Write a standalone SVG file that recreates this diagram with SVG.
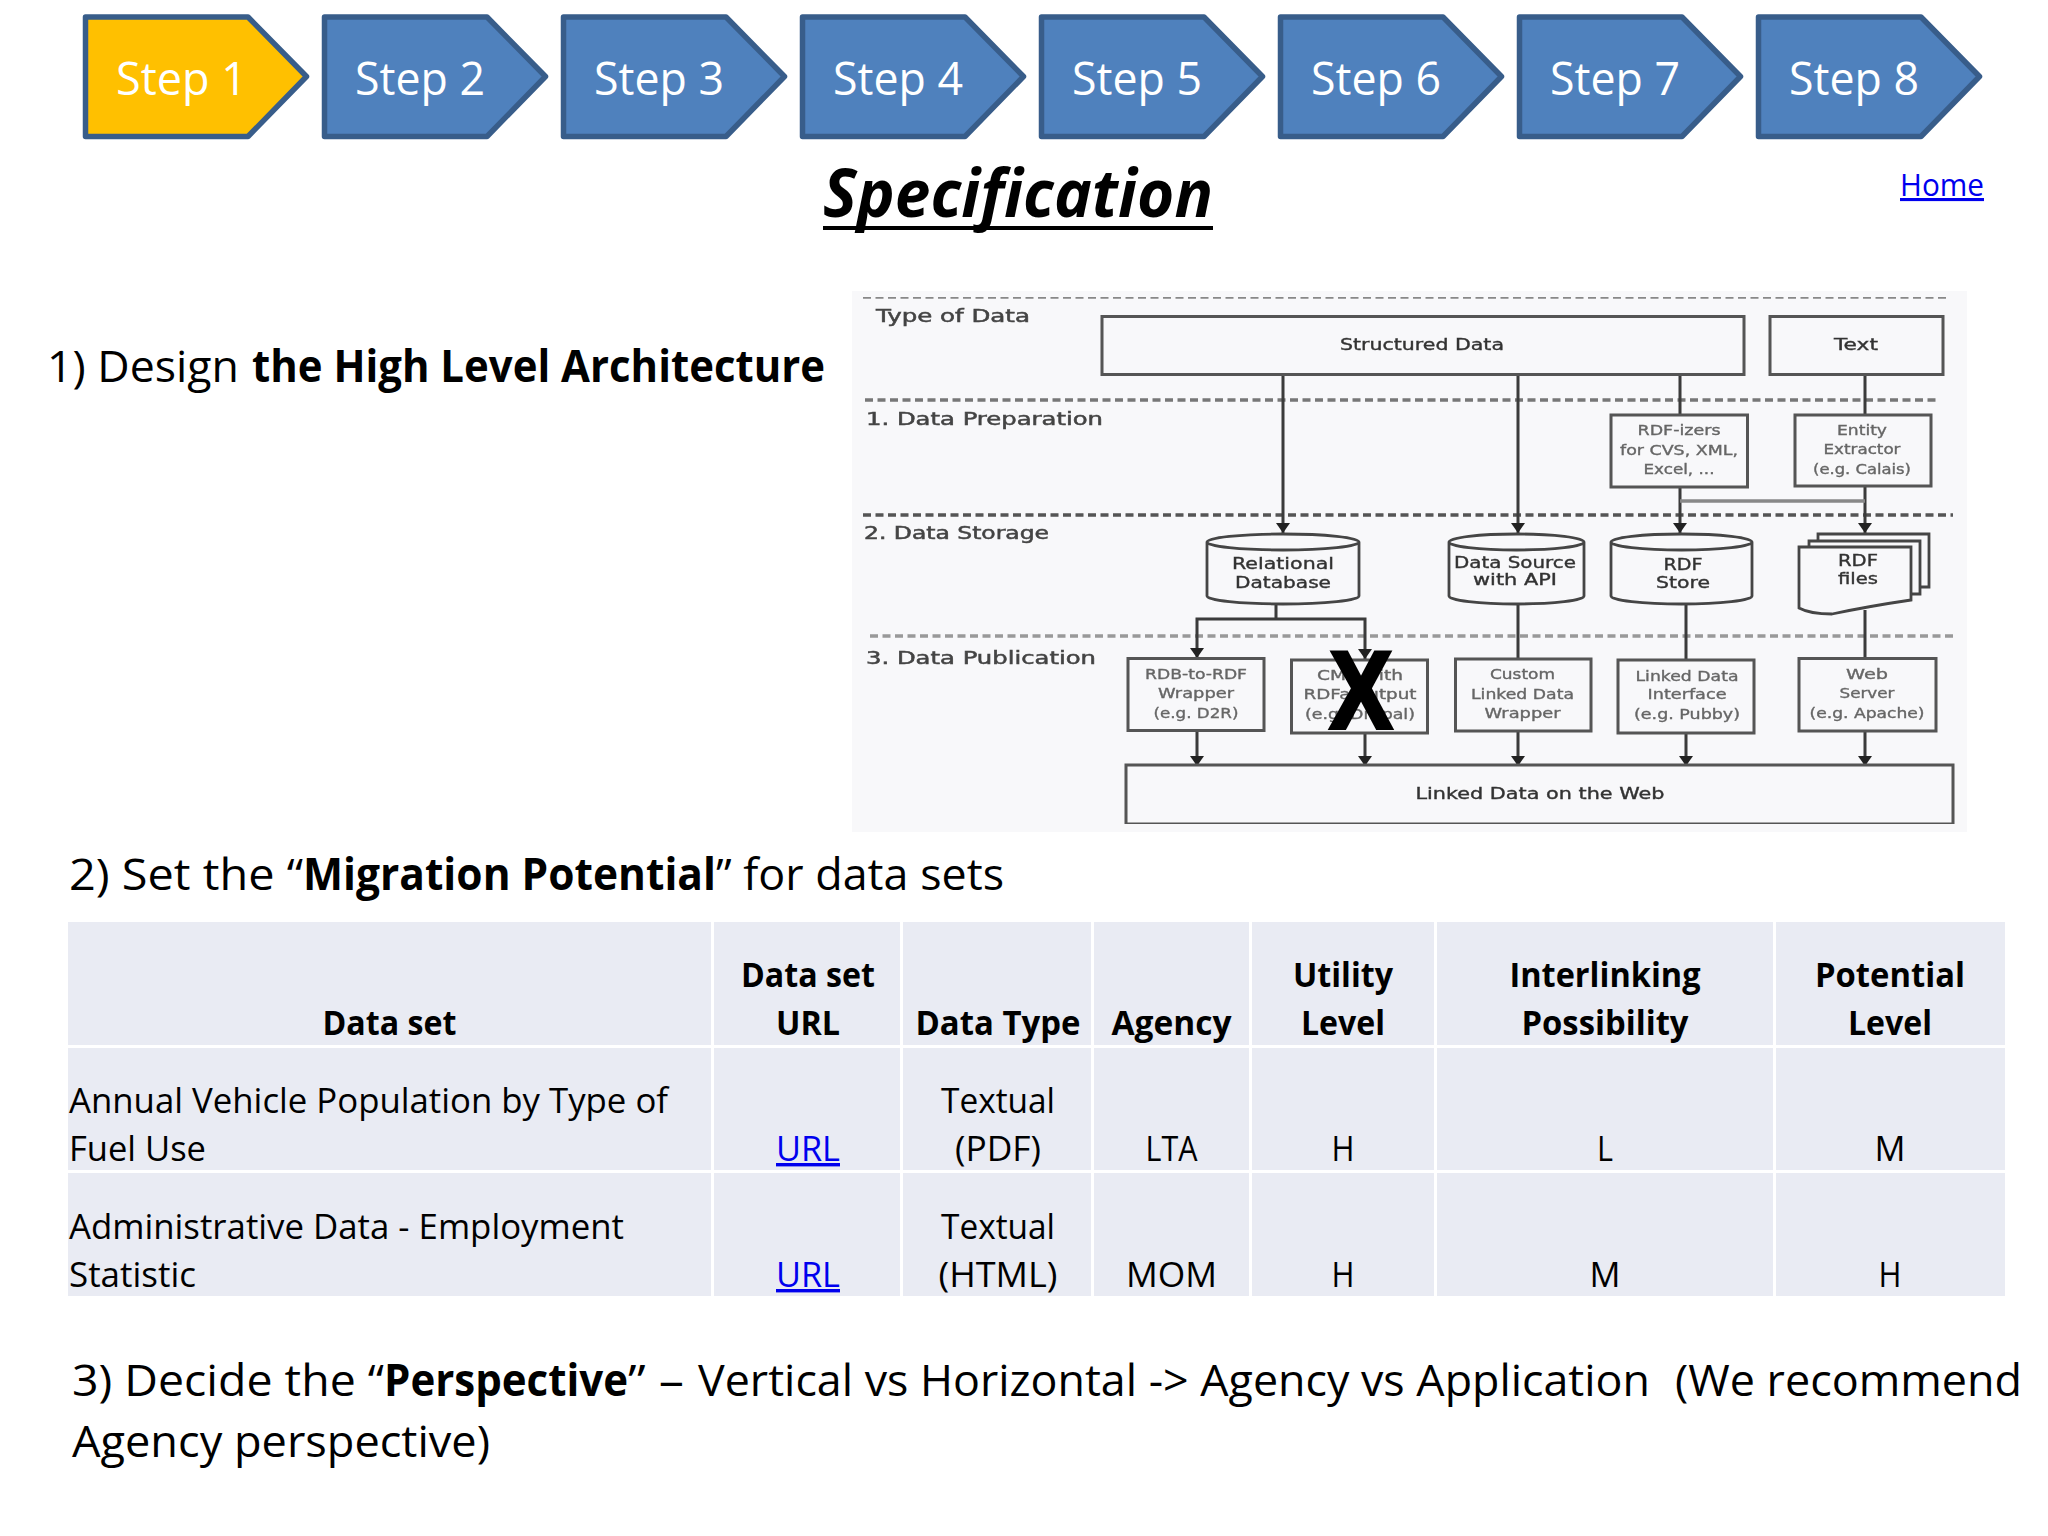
<svg xmlns="http://www.w3.org/2000/svg" width="2048" height="1536" viewBox="0 0 2048 1536">
<style>
text{font-family:"Open Sans","Noto Sans","Liberation Sans",sans-serif;fill:#000}
.chev{fill:#4F81BD;stroke:#385D8A;stroke-width:5.5;stroke-linejoin:round}
.st{fill:#fff;font-size:45px}
.b{font-weight:700}
.h1{font-size:44px}
.t{font-size:34px}
.m{text-anchor:middle}
.a{fill:#0000EE;text-decoration:underline}
.cell{fill:#E9EBF3}
.sk text{font-family:"DejaVu Sans","Liberation Sans",sans-serif;font-size:15px;text-anchor:middle;fill:#333;stroke:#333;stroke-width:.35}
.sk .l{fill:#666;stroke:#666;font-size:14px}
.sk .lab{text-anchor:start;font-size:17px;fill:#444;stroke:#444;stroke-width:.5}
.box{fill:none;stroke:#555;stroke-width:3}
.cyl{fill:#F8F8FA;stroke:#444;stroke-width:2.8}
.dash{stroke:#666;stroke-width:3.5;stroke-dasharray:8 4.500;fill:none}
.con{stroke:#3a3a3a;stroke-width:3;fill:none}
.arr{marker-end:url(#ah)}
</style>
<defs>
<marker id="ah" markerUnits="userSpaceOnUse" markerWidth="10" markerHeight="14" refX="10" refY="7" orient="auto"><path d="M0 0L10 7L0 14z" fill="#222"/></marker>
<filter id="soft" x="0" y="0" width="100%" height="100%"><feGaussianBlur stdDeviation="0.7"/></filter>
<polygon id="chevshape" points="85.5,17 248,17 306.5,76.5 248,136.5 85.5,136.5"/>
</defs>
<rect width="2048" height="1536" fill="#fff"/>

<g id="step1"><polygon points="85.5,17 248,17 306.5,76.5 248,136.5 85.5,136.5" class="chev" style="fill:#FFC000"/><text x="116" y="95" class="st" textLength="131" lengthAdjust="spacingAndGlyphs">Step 1</text></g>
<g id="step2" transform="translate(239 0)"><use href="#chevshape" class="chev"/><text x="116" y="95" class="st" textLength="130" lengthAdjust="spacingAndGlyphs">Step 2</text></g>
<g id="step3" transform="translate(478 0)"><use href="#chevshape" class="chev"/><text x="116" y="95" class="st" textLength="130" lengthAdjust="spacingAndGlyphs">Step 3</text></g>
<g id="step4" transform="translate(717 0)"><use href="#chevshape" class="chev"/><text x="116" y="95" class="st" textLength="130" lengthAdjust="spacingAndGlyphs">Step 4</text></g>
<g id="step5" transform="translate(956 0)"><use href="#chevshape" class="chev"/><text x="116" y="95" class="st" textLength="130" lengthAdjust="spacingAndGlyphs">Step 5</text></g>
<g id="step6" transform="translate(1195 0)"><use href="#chevshape" class="chev"/><text x="116" y="95" class="st" textLength="130" lengthAdjust="spacingAndGlyphs">Step 6</text></g>
<g id="step7" transform="translate(1434 0)"><use href="#chevshape" class="chev"/><text x="116" y="95" class="st" textLength="130" lengthAdjust="spacingAndGlyphs">Step 7</text></g>
<g id="step8" transform="translate(1673 0)"><use href="#chevshape" class="chev"/><text x="116" y="95" class="st" textLength="130" lengthAdjust="spacingAndGlyphs">Step 8</text></g>

<g id="title"><text x="823" y="216.500" font-size="66" font-weight="700" font-style="italic" textLength="390" lengthAdjust="spacingAndGlyphs">Specification</text><rect x="823" y="226" width="390" height="4"/></g>
<g id="home"><text x="1900" y="196" font-size="31" class="a" textLength="84" lengthAdjust="spacingAndGlyphs">Home</text></g>

<g id="heading1"><text x="47" y="382" class="h1" textLength="192" lengthAdjust="spacingAndGlyphs">1) Design</text><text x="252" y="382" class="h1 b" textLength="573" lengthAdjust="spacingAndGlyphs">the High Level Architecture</text></g>

<g id="sketch" class="sk">
<rect x="852" y="291" width="1115" height="541" fill="#F8F8FA"/>
<g filter="url(#soft)">
<g id="lanes">
<path class="dash" style="stroke:#888" d="M863 297H1947"/><path class="dash" style="stroke:#777" d="M865 400H1938"/><path class="dash" style="stroke:#555" d="M863 515H1953"/><path class="dash" style="stroke:#999" d="M870 636H1955"/>
<text class="lab" x="876" y="322" textLength="154" lengthAdjust="spacingAndGlyphs">Type of Data</text>
<text class="lab" x="866" y="425" textLength="237" lengthAdjust="spacingAndGlyphs">1. Data Preparation</text>
<text class="lab" x="864" y="539" textLength="185" lengthAdjust="spacingAndGlyphs">2. Data Storage</text>
<text class="lab" x="866" y="664" textLength="230" lengthAdjust="spacingAndGlyphs">3. Data Publication</text>
</g>
<g id="connectors">
<path class="con arr" d="M1283 375V533"/>
<path class="con arr" d="M1518 375V533"/>
<path class="con" d="M1680 375V415"/>
<path class="con" d="M1865 375V415"/>
<path class="con arr" d="M1680 487V533"/>
<path class="con arr" d="M1865 486V533"/>
<path d="M1680 501H1865" fill="none" stroke="#888" stroke-width="3.500"/>
<path class="con" d="M1276 604V619"/>
<path class="con arr" d="M1276 619H1197V658"/>
<path class="con arr" d="M1276 619H1365V659"/>
<path class="con" d="M1518 604V659"/>
<path class="con" d="M1686 604V660"/>
<path class="con" d="M1865 610V659"/>
<path class="con arr" d="M1197 731V766"/>
<path class="con arr" d="M1365 733V766"/>
<path class="con arr" d="M1518 731V766"/>
<path class="con arr" d="M1686 733V766"/>
<path class="con arr" d="M1865 731V766"/>
</g>
<g id="structured"><rect class="box" x="1102" y="316.500" width="642" height="58"/><text x="1422" y="350" textLength="164" lengthAdjust="spacingAndGlyphs">Structured Data</text></g>
<g id="text-source"><rect class="box" x="1770" y="316.500" width="173" height="58"/><text x="1856" y="350" textLength="44" lengthAdjust="spacingAndGlyphs">Text</text></g>
<g id="rdfizers"><rect class="box" x="1611" y="415" width="136.500" height="72"/><text class="l" x="1679" y="435" textLength="83" lengthAdjust="spacingAndGlyphs">RDF-izers</text><text class="l" x="1679" y="455" textLength="118" lengthAdjust="spacingAndGlyphs">for CVS, XML,</text><text class="l" x="1679" y="473.500" textLength="71" lengthAdjust="spacingAndGlyphs">Excel, ...</text></g>
<g id="entity"><rect class="box" x="1795" y="415" width="136" height="71"/><text class="l" x="1862" y="435" textLength="50" lengthAdjust="spacingAndGlyphs">Entity</text><text class="l" x="1862" y="454" textLength="77" lengthAdjust="spacingAndGlyphs">Extractor</text><text class="l" x="1862" y="473.500" textLength="98" lengthAdjust="spacingAndGlyphs">(e.g. Calais)</text></g>
<g id="relational"><path class="cyl" d="M1207 542A76 8 0 0 1 1359 542A76 8 0 0 1 1207 542V596A76 8 0 0 0 1359 596V542"/><text x="1283" y="569" textLength="102" lengthAdjust="spacingAndGlyphs">Relational</text><text x="1283" y="588" textLength="96" lengthAdjust="spacingAndGlyphs">Database</text></g>
<g id="datasource"><path class="cyl" d="M1449 542A67.500 8 0 0 1 1584 542A67.500 8 0 0 1 1449 542V596A67.500 8 0 0 0 1584 596V542"/><text x="1515" y="567.500" textLength="122" lengthAdjust="spacingAndGlyphs">Data Source</text><text x="1515" y="585" textLength="84" lengthAdjust="spacingAndGlyphs">with API</text></g>
<g id="rdfstore"><path class="cyl" d="M1611 542A70.500 8 0 0 1 1752 542A70.500 8 0 0 1 1611 542V596A70.500 8 0 0 0 1752 596V542"/><text x="1683" y="570" textLength="39" lengthAdjust="spacingAndGlyphs">RDF</text><text x="1683" y="588" textLength="54" lengthAdjust="spacingAndGlyphs">Store</text></g>
<g id="rdffiles">
<path class="cyl" d="M1818 534H1929V587H1818z"/>
<path class="cyl" d="M1809 541H1920V594H1809z"/>
<path class="cyl" d="M1799 547H1911V600Q1870 606 1832 614Q1810 614 1799 608z"/>
<text x="1858" y="566" textLength="40" lengthAdjust="spacingAndGlyphs">RDF</text><text x="1858" y="584" textLength="40" lengthAdjust="spacingAndGlyphs">files</text></g>
<g id="rdbwrap"><rect class="box" x="1128" y="658.500" width="136" height="72"/><text class="l" x="1196" y="679" textLength="102" lengthAdjust="spacingAndGlyphs">RDB-to-RDF</text><text class="l" x="1196" y="698" textLength="76" lengthAdjust="spacingAndGlyphs">Wrapper</text><text class="l" x="1196" y="717.500" textLength="85" lengthAdjust="spacingAndGlyphs">(e.g. D2R)</text></g>
<g id="cms"><rect class="box" x="1291.500" y="660" width="136" height="73"/><text class="l" x="1360" y="680" textLength="86" lengthAdjust="spacingAndGlyphs">CMS with</text><text class="l" x="1360" y="698.500" textLength="113" lengthAdjust="spacingAndGlyphs">RDFa output</text><text class="l" x="1360" y="718.500" textLength="110" lengthAdjust="spacingAndGlyphs">(e.g. Drupal)</text></g>
<g id="customwrap"><rect class="box" x="1455.500" y="659" width="135.500" height="72"/><text class="l" x="1522.500" y="679" textLength="65" lengthAdjust="spacingAndGlyphs">Custom</text><text class="l" x="1522.500" y="698.500" textLength="103" lengthAdjust="spacingAndGlyphs">Linked Data</text><text class="l" x="1522.500" y="717.500" textLength="76" lengthAdjust="spacingAndGlyphs">Wrapper</text></g>
<g id="ldinterface"><rect class="box" x="1618" y="660" width="136" height="73"/><text class="l" x="1687" y="680.500" textLength="103" lengthAdjust="spacingAndGlyphs">Linked Data</text><text class="l" x="1687" y="699" textLength="79" lengthAdjust="spacingAndGlyphs">Interface</text><text class="l" x="1687" y="718.500" textLength="106" lengthAdjust="spacingAndGlyphs">(e.g. Pubby)</text></g>
<g id="webserver"><rect class="box" x="1799" y="658.500" width="137" height="72.500"/><text class="l" x="1867" y="679" textLength="42" lengthAdjust="spacingAndGlyphs">Web</text><text class="l" x="1867" y="698" textLength="55" lengthAdjust="spacingAndGlyphs">Server</text><text class="l" x="1867" y="717.500" textLength="115" lengthAdjust="spacingAndGlyphs">(e.g. Apache)</text></g>
<g id="linkeddata"><rect class="box" x="1126" y="765" width="827" height="59"/><text x="1540" y="798.500" textLength="249" lengthAdjust="spacingAndGlyphs">Linked Data on the Web</text></g>
</g>
</g>
<g id="xmark"><text x="1330" y="728" font-size="110" font-weight="700" textLength="62" lengthAdjust="spacingAndGlyphs" style="font-family:'Liberation Sans',sans-serif" stroke="#000" stroke-width="4">X</text></g>

<g id="heading2"><text x="69" y="890" class="h1" textLength="234" lengthAdjust="spacingAndGlyphs">2) Set the “</text><text x="303" y="890" class="h1 b" textLength="413" lengthAdjust="spacingAndGlyphs">Migration Potential</text><text x="716" y="890" class="h1" textLength="288" lengthAdjust="spacingAndGlyphs">” for data sets</text></g>

<g id="table">
<g id="cells">
<rect class="cell" x="68" y="922" width="643" height="123"/><rect class="cell" x="714" y="922" width="186" height="123"/><rect class="cell" x="903" y="922" width="188" height="123"/><rect class="cell" x="1094" y="922" width="155" height="123"/><rect class="cell" x="1252" y="922" width="182" height="123"/><rect class="cell" x="1437" y="922" width="336" height="123"/><rect class="cell" x="1776" y="922" width="229" height="123"/>
<rect class="cell" x="68" y="1048" width="643" height="122"/><rect class="cell" x="714" y="1048" width="186" height="122"/><rect class="cell" x="903" y="1048" width="188" height="122"/><rect class="cell" x="1094" y="1048" width="155" height="122"/><rect class="cell" x="1252" y="1048" width="182" height="122"/><rect class="cell" x="1437" y="1048" width="336" height="122"/><rect class="cell" x="1776" y="1048" width="229" height="122"/>
<rect class="cell" x="68" y="1173" width="643" height="123"/><rect class="cell" x="714" y="1173" width="186" height="123"/><rect class="cell" x="903" y="1173" width="188" height="123"/><rect class="cell" x="1094" y="1173" width="155" height="123"/><rect class="cell" x="1252" y="1173" width="182" height="123"/><rect class="cell" x="1437" y="1173" width="336" height="123"/><rect class="cell" x="1776" y="1173" width="229" height="123"/>
</g>
<g id="thead" class="t b">
<text class="m" x="389.500" y="1035" textLength="134" lengthAdjust="spacingAndGlyphs">Data set</text>
<text class="m" x="808" y="987" textLength="134" lengthAdjust="spacingAndGlyphs">Data set</text><text class="m" x="808" y="1035" textLength="64" lengthAdjust="spacingAndGlyphs">URL</text>
<text class="m" x="998" y="1035" textLength="165" lengthAdjust="spacingAndGlyphs">Data Type</text>
<text class="m" x="1171.500" y="1035" textLength="120" lengthAdjust="spacingAndGlyphs">Agency</text>
<text class="m" x="1343" y="987" textLength="100" lengthAdjust="spacingAndGlyphs">Utility</text><text class="m" x="1343" y="1035" textLength="84" lengthAdjust="spacingAndGlyphs">Level</text>
<text class="m" x="1605" y="987" textLength="191" lengthAdjust="spacingAndGlyphs">Interlinking</text><text class="m" x="1605" y="1035" textLength="167" lengthAdjust="spacingAndGlyphs">Possibility</text>
<text class="m" x="1890" y="987" textLength="150" lengthAdjust="spacingAndGlyphs">Potential</text><text class="m" x="1890" y="1035" textLength="84" lengthAdjust="spacingAndGlyphs">Level</text>
</g>
<g id="row1" class="t">
<text x="69" y="1113" textLength="599" lengthAdjust="spacingAndGlyphs">Annual Vehicle Population by Type of</text><text x="69" y="1161" textLength="137" lengthAdjust="spacingAndGlyphs">Fuel Use</text>
<text class="m a" x="808" y="1161" textLength="64" lengthAdjust="spacingAndGlyphs">URL</text>
<text class="m" x="998" y="1113" textLength="114" lengthAdjust="spacingAndGlyphs">Textual</text><text class="m" x="998" y="1161" textLength="86" lengthAdjust="spacingAndGlyphs">(PDF)</text>
<text class="m" x="1171.500" y="1161" textLength="52" lengthAdjust="spacingAndGlyphs">LTA</text>
<text class="m" x="1343" y="1161" textLength="23" lengthAdjust="spacingAndGlyphs">H</text>
<text class="m" x="1605" y="1161" textLength="16" lengthAdjust="spacingAndGlyphs">L</text>
<text class="m" x="1890" y="1161" textLength="31" lengthAdjust="spacingAndGlyphs">M</text>
</g>
<g id="row2" class="t">
<text x="69" y="1239" textLength="555" lengthAdjust="spacingAndGlyphs">Administrative Data - Employment</text><text x="69" y="1287" textLength="127" lengthAdjust="spacingAndGlyphs">Statistic</text>
<text class="m a" x="808" y="1287" textLength="64" lengthAdjust="spacingAndGlyphs">URL</text>
<text class="m" x="998" y="1239" textLength="114" lengthAdjust="spacingAndGlyphs">Textual</text><text class="m" x="998" y="1287" textLength="119" lengthAdjust="spacingAndGlyphs">(HTML)</text>
<text class="m" x="1171.500" y="1287" textLength="91" lengthAdjust="spacingAndGlyphs">MOM</text>
<text class="m" x="1343" y="1287" textLength="23" lengthAdjust="spacingAndGlyphs">H</text>
<text class="m" x="1605" y="1287" textLength="31" lengthAdjust="spacingAndGlyphs">M</text>
<text class="m" x="1890" y="1287" textLength="23" lengthAdjust="spacingAndGlyphs">H</text>
</g>
</g>

<g id="heading3">
<text x="72" y="1396" class="h1" textLength="312" lengthAdjust="spacingAndGlyphs">3) Decide the “</text>
<text x="384" y="1396" class="h1 b" textLength="244" lengthAdjust="spacingAndGlyphs">Perspective</text>
<text x="628" y="1396" class="h1" textLength="56" lengthAdjust="spacingAndGlyphs">” –</text>
<text x="698" y="1396" class="h1" textLength="952" lengthAdjust="spacingAndGlyphs">Vertical vs Horizontal -&gt; Agency vs Application</text>
<text x="1675" y="1396" class="h1" textLength="347" lengthAdjust="spacingAndGlyphs">(We recommend</text>
<text x="72" y="1457" class="h1" textLength="418" lengthAdjust="spacingAndGlyphs">Agency perspective)</text>
</g>
</svg>
